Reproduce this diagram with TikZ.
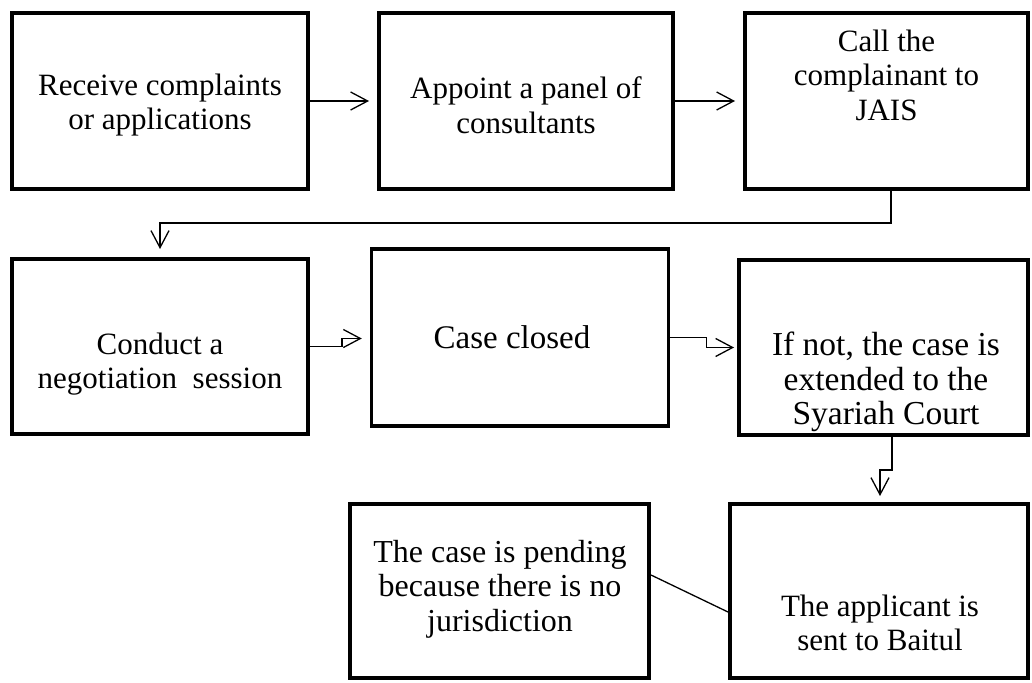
\documentclass[tikz,border=0pt]{standalone}
\usepackage{fontspec}
\setmainfont{Liberation Serif}
\usetikzlibrary{arrows.meta}
\begin{document}
\begin{tikzpicture}[x=1pt,y=-1pt,
  box/.style={draw, line width=4pt, inner sep=0pt},
  txt/.style={align=center, font=\fontsize{31}{34.5}\selectfont, inner sep=0pt},
  conn/.style={line width=1.3pt},
  arr/.style={conn, -{Straight Barb[length=17pt,width=18pt,line width=1.3pt]}}]
\useasboundingbox (0,0) rectangle (1032,682);
% boxes
\node[box, minimum width=296pt, minimum height=176pt] (b1) at (160,101) {};
\node[box, minimum width=294pt, minimum height=176pt] (b2) at (526,101) {};
\node[box, minimum width=283pt, minimum height=176pt] (b3) at (886.5,101) {};
\node[box, minimum width=296pt, minimum height=175pt] (b4) at (160,346.5) {};
\node[box, line width=3.5pt, minimum width=297pt, minimum height=177pt] (b5) at (520,337.5) {};
\node[box, minimum width=289pt, minimum height=175pt] (b6) at (883.5,347.5) {};
\node[box, minimum width=299pt, minimum height=174pt] (b7) at (499.5,591) {};
\node[box, minimum width=298pt, minimum height=174pt] (b8) at (879,591) {};
% texts
\node[txt] (t1) at (160,105) {Receive complaints\\or applications};
\node[txt] (t2) at (526,105) {Appoint a panel of\\consultants};
\node[txt] (t3) at (886.5,75) {Call the\\complainant to\\JAIS};
\node[txt] (t4) at (160,364) {Conduct a\\negotiation\ \ session};
\node[txt, font=\fontsize{33}{34.5}\selectfont] (t5) at (512,337) {Case closed};
\node[txt, font=\fontsize{33.5}{34.5}\selectfont] (t6) at (886,382) {If not, the case is\\extended to the\\Syariah Court};
\node[txt, font=\fontsize{32}{34.5}\selectfont] (t7) at (500,589) {The case is pending\\because there is no\\jurisdiction};
\node[txt] (t8) at (880,623) {The applicant is\\sent to Baitul};
% connectors
\draw[arr, shorten >=8pt] (b1.east) -- (b2.west);
\draw[arr, shorten >=8pt] (b2.east) -- (b3.west);
\draw[arr, shorten >=8pt] ([xshift=4.5pt]b3.south) |- (160,223) -- (b4.north);
\draw[arr, shorten >=8pt] (b4.east) -- ++(32,0) |- ([yshift=-1pt]b5.west);
\draw[arr, shorten >=3pt] (b5.east) -- ++(36,0) |- (b6.west);
\draw[arr, shorten >=6pt] ([xshift=8.5pt]b6.south) |- (880,470) -- ([xshift=1pt]b8.north);
\draw[conn] ([yshift=16pt]b7.east) -- ([yshift=-21pt]b8.west);
\end{tikzpicture}
\end{document}
